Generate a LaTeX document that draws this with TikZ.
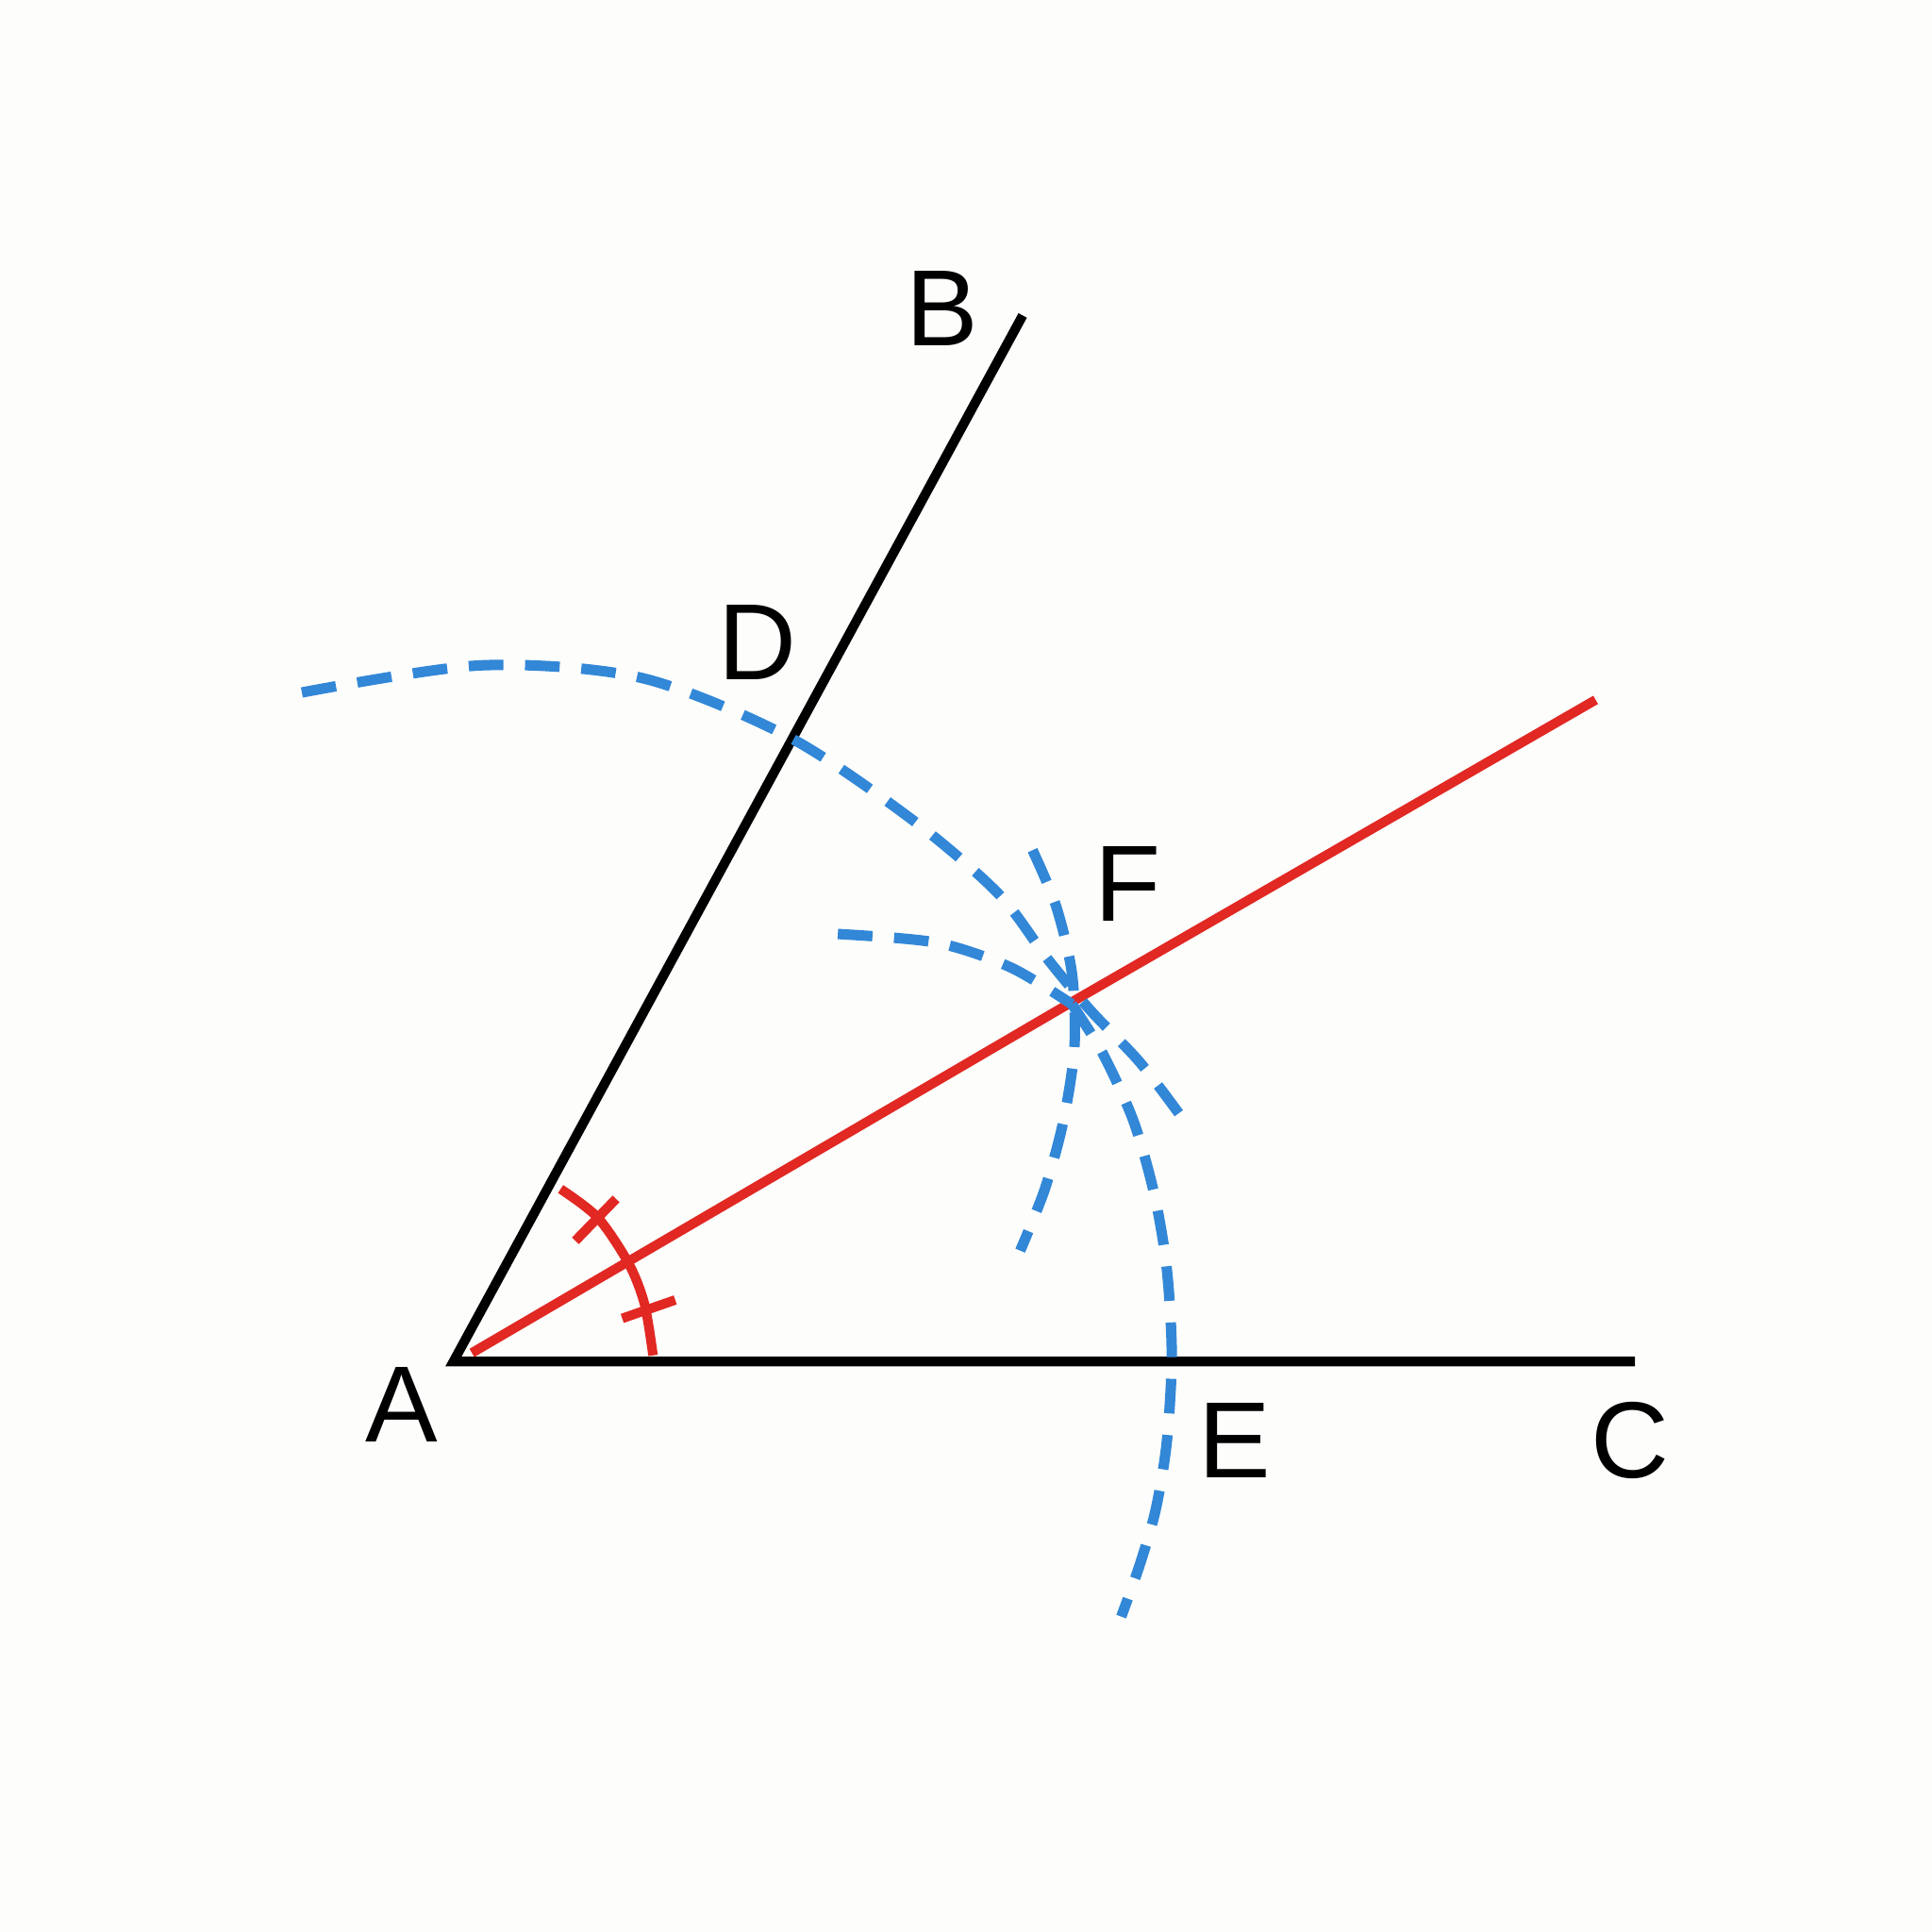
\documentclass[tikz,border=0pt]{standalone}
\usepackage{fontspec}
\setmainfont{Liberation Sans}
\begin{document}
\begin{tikzpicture}[x=0.01cm,y=-0.01cm,
  blk/.style={line width=2.2pt,black},
  red/.style={line width=2.2pt,draw={rgb,255:red,225;green,40;blue,35}},
  blu/.style={line width=2.4pt,draw={rgb,255:red,50;green,135;blue,215},dash pattern=on 8pt off 5pt},
  lab/.style={font=\fontsize{25}{30}\selectfont}]
\useasboundingbox[fill={rgb,255:red,253;green,253;blue,251}] (0,0) rectangle (1568,1568);
\coordinate (A) at (368,1105);
\coordinate (B) at (830,256);
\coordinate (C) at (1327,1105);
\coordinate (F) at (872,812);
\coordinate (R) at (1295,568);
\draw[blk] (B) -- (A) -- (C);
\draw[red] (383,1098) -- (F) -- (R);
\draw[red] plot[smooth] coordinates {(455,965) (485,988) (510,1025) (523,1058) (530,1100)};
\draw[red] (467,1007) -- (500,973);
\draw[red] (505,1070) -- (548,1055);
\draw[blu] plot[smooth] coordinates {(245,562) (390,540) (520,550) (640,598) (740,665) (810,725) (850,778) (885,820) (925,862) (960,908)};
\draw[blu] plot[smooth] coordinates {(680,758) (760,765) (820,785) (870,815)};
\draw[blu] plot[smooth] coordinates {(838,690) (857,735) (870,790) (872,850) (863,910) (848,965) (828,1015)};
\draw[blu] plot[smooth] coordinates {(870,815) (895,855) (920,910) (937,970) (947,1030) (951,1100) (947,1170) (938,1225) (925,1270) (910,1312)};
\node[lab] (nB) at (765,250) {B};
\node[lab] (nD) at (615,521) {D};
\node[lab] (nF) at (915,717) {F};
\node[lab] (nA) at (326,1140) {A};
\node[lab] (nE) at (1002,1169) {E};
\node[lab] (nC) at (1323,1169) {C};
\end{tikzpicture}
\end{document}
